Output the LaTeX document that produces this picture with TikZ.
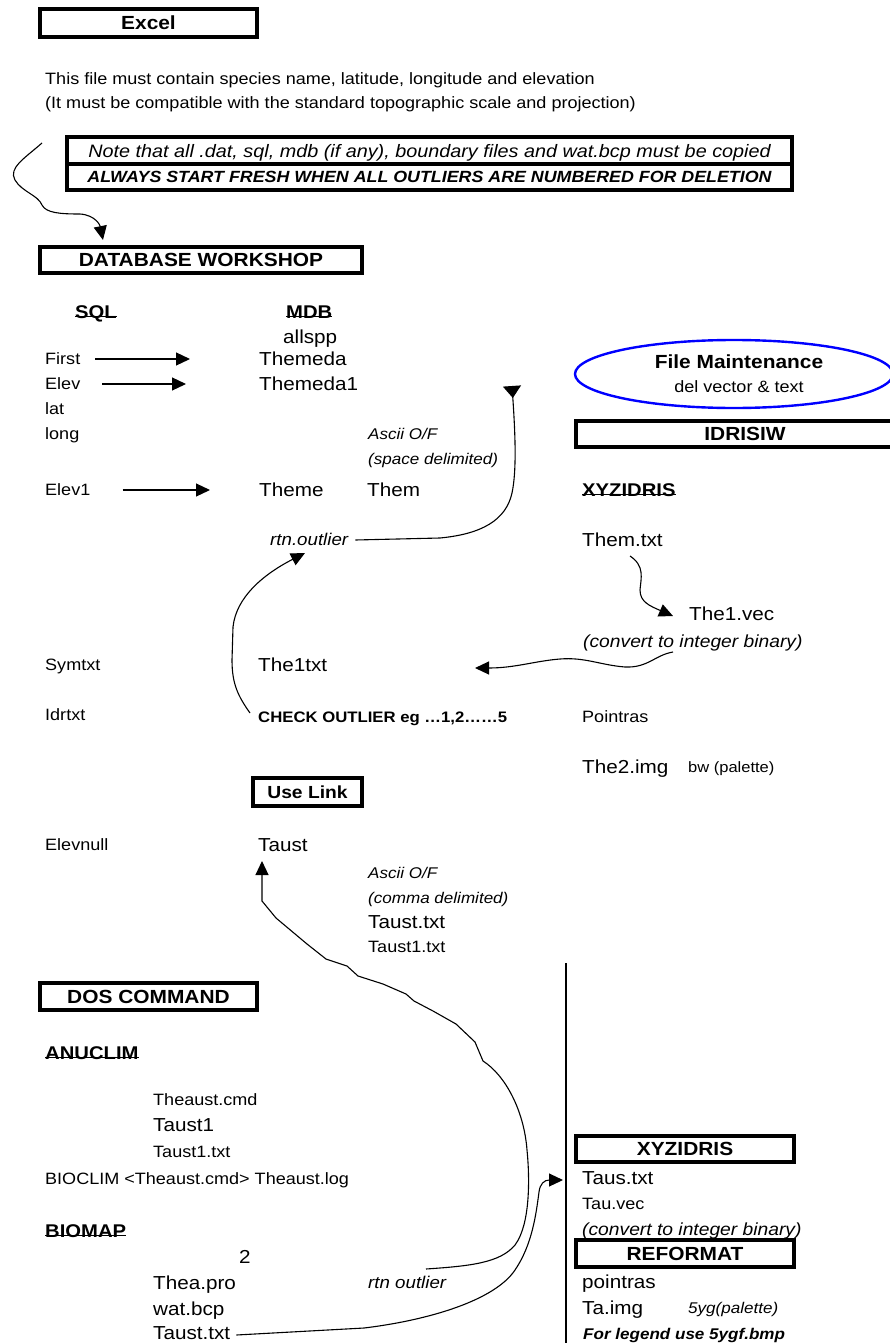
\documentclass[tikz,border=0pt]{standalone}
\usepackage{fontspec}
\setmainfont{Liberation Sans}[FakeStretch=1.1]
\usetikzlibrary{arrows.meta}
\begin{document}
\begin{tikzpicture}[x=1pt,y=-1pt,
 every node/.style={inner sep=0pt, text depth=0pt},
 tb/.style={anchor=west, text height=11.8pt, font=\fontsize{16.4}{18}\selectfont},
 tbig/.style={anchor=west, text height=13.5pt, font=\fontsize{18.8}{20}\selectfont},
 tit/.style={anchor=west, text height=11.2pt, font=\fontsize{15.5}{18}\selectfont\itshape},
 tsm/.style={anchor=west, text height=10.8pt, font=\fontsize{15}{17}\selectfont},
 hdr/.style={text height=13.7pt, font=\fontsize{19}{20}\selectfont\bfseries},
 uhd/.style={anchor=west, text height=13.2pt, font=\fontsize{18.4}{20}\selectfont\bfseries},
 hbox/.style={draw, line width=3.5pt},
 uline/.style={line width=1.4pt},
 arr/.style={line width=1.2pt, -{Triangle[length=14pt,width=13pt]}},
 crv/.style={line width=1.1pt, -{Triangle[length=14pt,width=13pt]}},
]
\fill[white] (0,0) rectangle (889,1343);
\useasboundingbox (0,0) rectangle (889,1343);

% ---------- top ----------
\draw[hbox] (40,9) rectangle (257,37);
\node[hdr] (excel) at (148.5,23) {Excel};
\node[tb] (info1) at (45,79) {This file must contain species name, latitude, longitude and elevation};
\node[tb] (info2) at (45,103) {(It must be compatible with the standard topographic scale and projection)};

\draw[hbox] (67,137) rectangle (792,164);
\node[text height=13.2pt, font=\fontsize{18}{19}\selectfont\itshape] (note1) at (429.5,151) {Note that all .dat, sql, mdb (if any), boundary files and wat.bcp must be copied};
\draw[hbox] (67,164) rectangle (792,190);
\node[text height=11.8pt, font=\fontsize{16.2}{18}\selectfont\bfseries\itshape] (note2) at (429.5,177) {ALWAYS START FRESH WHEN ALL OUTLIERS ARE NUMBERED FOR DELETION};

\draw[hbox] (40,247) rectangle (362,273);
\node[hdr] (dbw) at (201,260) {DATABASE WORKSHOP};
\coordinate (c1s) at (42,143);
\coordinate (c1e) at (103,240);
\draw[crv] (c1s) .. controls (25,158) and (8,168) .. (15,180) .. controls (22,192) and (38,195) .. (42,205) .. controls (46,213) and (60,214) .. (80,214) .. controls (95,215) and (100,225) .. (c1e);

% ---------- database workshop ----------
\node[uhd] (sql) at (75,312) {SQL};
\node[uhd] (mdb) at (286,312) {MDB};
\draw[uline] ([yshift=2.5pt]sql.south west) -- ([yshift=2.5pt]sql.south east);
\draw[uline] ([yshift=2.5pt]mdb.south west) -- ([yshift=2.5pt]mdb.south east);
\node[tbig] (allspp) at (283,337) {allspp};
\node[tb] (first) at (45,359) {First};
\node[tbig] (themeda) at (259,359) {Themeda};
\node[tb] (elev) at (45,384) {Elev};
\node[tbig] (themeda1) at (259,384) {Themeda1};
\node[tb] (lat) at (45,409) {lat};
\node[tb] (long) at (45,434) {long};
\node[tit] (ascii1) at (368,434) {Ascii O/F};
\node[tit] (space) at (368,459) {(space delimited)};
\node[tb] (elev1) at (45,490) {Elev1};
\node[tbig] (theme) at (259,490) {Theme};
\node[tbig] (them) at (367,490) {Them};
\draw[arr] ([xshift=15pt]first.east) -- ([xshift=-69pt]themeda.west);
\draw[arr] ([xshift=22pt]elev.east) -- ([xshift=-73pt]themeda1.west);
\draw[arr] ([xshift=32pt]elev1.east) -- ([xshift=-49pt]theme.west);

\node[tit, font=\fontsize{17}{19}\selectfont\itshape] (rtn1) at (270,540) {rtn.outlier};
\coordinate (c2e) at (512,386);
\draw[line width=1.1pt, -{Triangle[reversed,length=12pt,width=18pt]}] ([xshift=7pt]rtn1.east) -- (440,538) .. controls (482,534) and (506,520) .. (512,493) .. controls (517,470) and (515,430) .. (c2e);

\node[tb] (symtxt) at (45,665) {Symtxt};
\node[tbig] (the1txt) at (258,665) {The1txt};
\node[tb] (idrtxt) at (45,715) {Idrtxt};
\node[anchor=west, text height=11pt, font=\fontsize{15.2}{17}\selectfont\bfseries] (check) at (258,717) {CHECK OUTLIER eg …1,2……5};
\coordinate (c3e) at (305,553);
\draw[crv] ([xshift=-8pt,yshift=4pt]check.west) .. controls (238,696) and (232,684) .. (232,660) -- (233,627) .. controls (236,598) and (262,575) .. (c3e);

\draw[hbox] (253,778) rectangle (362,806);
\node[hdr, font=\fontsize{17.5}{19}\selectfont\bfseries] (uselink) at (307.5,792) {Use Link};

\node[tb] (elevnull) at (45,845) {Elevnull};
\node[tbig] (taust) at (258,845) {Taust};
\node[tit] (ascii2) at (368,873) {Ascii O/F};
\node[tit] (comma) at (368,898) {(comma delimited)};
\node[tbig] (tausttxt) at (368,922) {Taust.txt};
\node[tb] (taust1txt) at (368,947) {Taust1.txt};

% ---------- DOS ----------
\draw[hbox] (40,983) rectangle (257,1010);
\node[hdr] (dos) at (148.5,997) {DOS COMMAND};
\node[uhd] (anuclim) at (45,1053) {ANUCLIM};
\draw[uline] ([yshift=2.5pt]anuclim.south west) -- ([yshift=2.5pt]anuclim.south east);
\node[tb] (theaustcmd) at (153,1100) {Theaust.cmd};
\node[tbig] (taust1) at (153,1125) {Taust1};
\node[tb] (taust1txtb) at (153,1152) {Taust1.txt};
\node[tb] (bioclim) at (45,1179) {BIOCLIM <Theaust.cmd> Theaust.log};
\node[uhd] (biomap) at (45,1231) {BIOMAP};
\draw[uline] ([yshift=2.5pt]biomap.south west) -- ([yshift=2.5pt]biomap.south east);
\node[tbig] (two) at (239,1257) {2};
\node[tbig] (theapro) at (153,1283) {Thea.pro};
\node[tit, font=\fontsize{17}{19}\selectfont\itshape] (rtn2) at (368,1283) {rtn outlier};
\node[tbig] (watbcp) at (153,1309) {wat.bcp};
\node[tbig] (tausttxtb) at (153,1333) {Taust.txt};

% long connector up to Taust
\coordinate (c6s) at (426,1269);
\coordinate (c6e) at (262,861);
\draw[crv] (c6s) .. controls (470,1266) and (500,1263) .. (515,1245) .. controls (530,1225) and (530,1180) .. (527,1150) .. controls (524,1110) and (505,1075) .. (483,1061)
 -- (475,1042) -- (456,1024) -- (433,1011) -- (414,1001) -- (406,994) -- (383,984) -- (358,976) -- (347,966) -- (326,959) -- (307,944) -- (276,918) -- (262,901) -- (c6e);

% ---------- right column ----------
\draw[blue, line width=2.4pt] (734,374) ellipse [x radius=159, y radius=34];
\node[hdr] (filem) at (739,362) {File Maintenance};
\node[tb, anchor=center] (delv) at (739,387) {del vector \& text};

\draw[hbox] (576,421) rectangle (905,447);
\node[hdr] (idrisiw) at (745,434) {IDRISIW};
\node[uhd] (xyz1) at (582,490) {XYZIDRIS};
\draw[uline] ([yshift=2.5pt]xyz1.south west) -- ([yshift=2.5pt]xyz1.south east);
\node[tbig] (themtxt) at (582,540) {Them.txt};
\node[tbig] (the1vec) at (689,614) {The1.vec};
\node[tit, font=\fontsize{17.5}{19}\selectfont\itshape] (conv1) at (583,642) {(convert to integer binary)};
\coordinate (c4s) at (630,556);
\draw[crv] (c4s) .. controls (645,566) and (641,578) .. (640,590) .. controls (640,602) and (650,606) .. ([xshift=-16pt,yshift=-2pt]the1vec.west);
\coordinate (c5s) at (673,652);
\coordinate (c5e) at (475,668);
\draw[crv] (c5s) .. controls (655,655) and (648,668) .. (625,667) .. controls (600,665) and (585,657) .. (560,659) .. controls (535,661) and (515,668) .. (c5e);
\node[tb] (pointras1) at (582,717) {Pointras};
\node[tbig] (the2img) at (582,767) {The2.img};
\node[tsm] (bw) at (688,767) {bw (palette)};

\draw[line width=1.2pt] (566,963) -- (566,1343);
\draw[hbox] (576,1136) rectangle (794,1162);
\node[hdr] (xyz2) at (685,1149) {XYZIDRIS};
\node[tbig] (taustxt) at (582,1178) {Taus.txt};
\node[tb] (tauvec) at (582,1204) {Tau.vec};
\node[tit, font=\fontsize{17.5}{19}\selectfont\itshape] (conv2) at (582,1230) {(convert to integer binary)};
\draw[hbox] (576,1240) rectangle (794,1267);
\node[hdr] (reformat) at (685,1254) {REFORMAT};
\node[tbig] (pointras2) at (582,1282) {pointras};
\node[tbig] (taimg) at (582,1308) {Ta.img};
\node[tit] (yg) at (688,1308) {5yg(palette)};
\node[anchor=west, text height=11.2pt, font=\fontsize{15.5}{17}\selectfont\bfseries\itshape] (legend) at (583,1334) {For legend use 5ygf.bmp};

\coordinate (c7e) at (563,1180);
\draw[crv] ([xshift=6pt,yshift=-2pt]tausttxtb.east) -- (364,1328) .. controls (430,1320) and (495,1300) .. (515,1270) .. controls (532,1245) and (536,1215) .. (539,1192) .. controls (540,1184) and (544,1180) .. (c7e);
\end{tikzpicture}
\end{document}
